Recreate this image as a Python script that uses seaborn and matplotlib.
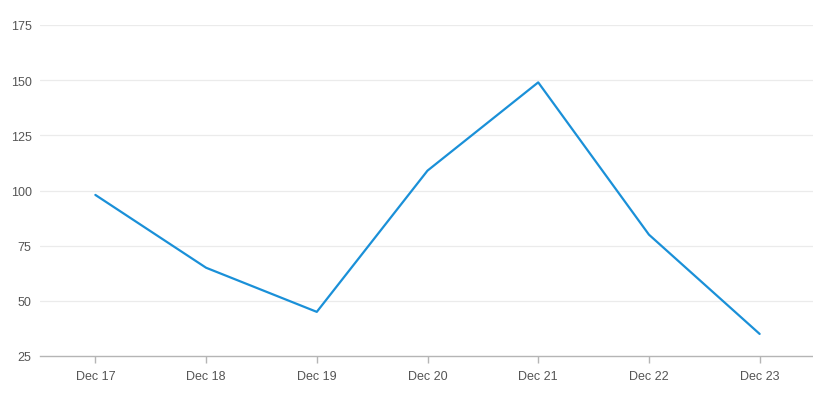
import matplotlib
matplotlib.use("Agg")
import matplotlib.pyplot as plt
import seaborn as sns
import pandas as pd

days = ["Dec 17", "Dec 18", "Dec 19", "Dec 20", "Dec 21", "Dec 22", "Dec 23"]
values = [98, 65, 45, 109, 149, 80, 35]
y_ticks = [25, 50, 75, 100, 125, 150, 175]

df = pd.DataFrame({"day": days, "value": values})

sns.set_theme(style="white")
plt.rcParams["font.family"] = ["Liberation Sans", "DejaVu Sans"]

fig = plt.figure(figsize=(8.13, 4.02), dpi=100)
ax = fig.add_axes([40 / 813, 1 - 357 / 402, 775 / 813, 331 / 402])

sns.lineplot(data=df, x="day", y="value", ax=ax, color="#1a90d8",
             linewidth=1.6, sort=False)

ax.set_xlim(-0.5, 6.5)
ax.set_ylim(25, 175)
ax.set_yticks(y_ticks)
ax.set_xlabel("")
ax.set_ylabel("")

for t in y_ticks[1:]:
    ax.axhline(t, color="#ebebeb", linewidth=0.9, zorder=0)

for side in ["top", "right", "left"]:
    ax.spines[side].set_visible(False)
ax.spines["bottom"].set_color("#b5b5b5")
ax.spines["bottom"].set_linewidth(1)

ax.tick_params(axis="x", length=5, color="#b5b5b5", width=1, pad=5,
               labelsize=9, labelcolor="#555555", bottom=True)
ax.tick_params(axis="y", length=0, pad=6, labelsize=9, labelcolor="#555555")

fig.savefig("out.png", dpi=100)
